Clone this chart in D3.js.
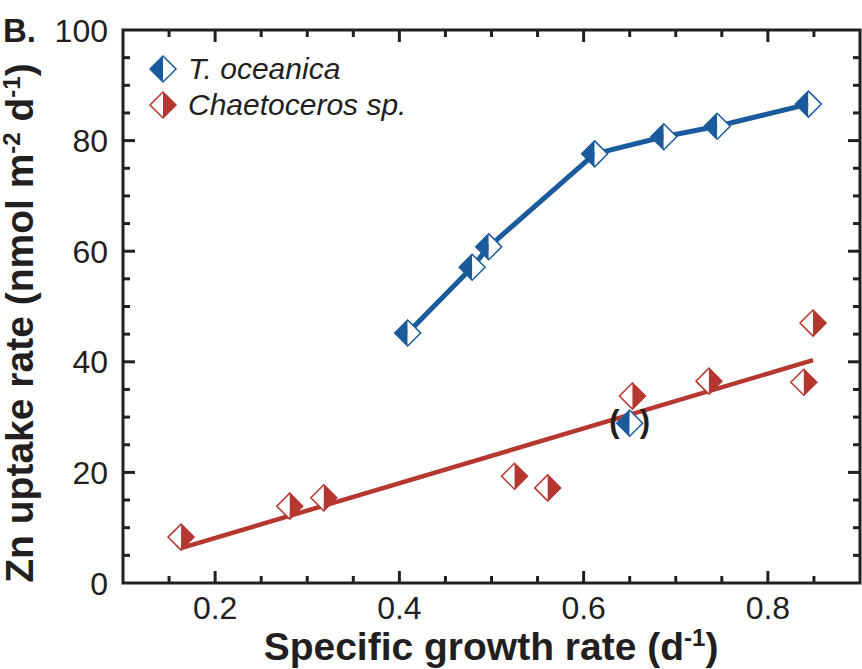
<!DOCTYPE html>
<html>
<head>
<meta charset="utf-8">
<script src="https://cdn.jsdelivr.net/npm/d3@7"></script>
<style>
  body { margin: 0; background: white; }
  text { font-family: Arial, "Liberation Sans", Helvetica, sans-serif; fill: #231f20; }
</style>
</head>
<body>
<svg id="chart"></svg>
<script>
// T. oceanica, connected points
var oceanicaX = [0.409, 0.479, 0.497, 0.612, 0.687, 0.745, 0.844];
var oceanicaY = [45.2, 57.1, 60.8, 77.6, 80.7, 82.6, 86.6];
// T. oceanica point excluded (in parentheses)
var outlierX = [0.65];
var outlierY = [28.9];
// Chaetoceros sp. points
var chaetoX = [0.163, 0.281, 0.318, 0.525, 0.561, 0.653, 0.736, 0.839, 0.849];
var chaetoY = [8.3, 13.9, 15.4, 19.3, 17.2, 33.8, 36.5, 36.3, 47.0];
// Chaetoceros sp. linear fit, end points
var fitX = [0.163, 0.849];
var fitY = [6.3, 40.3];

var xTicks = [0.2, 0.4, 0.6, 0.8];
var yTicks = [0, 20, 40, 60, 80, 100];
var legendNames = ["T. oceanica", "Chaetoceros sp."];

var W = 862, H = 669;
var plotL = 123, plotR = 860, plotT = 30, plotB = 583;
var ink = "#231f20";
var blue = "#1a5b9c";
var red = "#b5372f";
var s = 13; // half size of diamond

var svg = d3.select("#chart").attr("width", W).attr("height", H);

var x = d3.scaleLinear().domain([0.1, 0.9]).range([plotL, plotR]);
var y = d3.scaleLinear().domain([0, 100]).range([plotB, plotT]);

// ticks on all four sides, pointing inwards
var xMinor = d3.range(0.15, 0.9, 0.05).map(function (v) { return +v.toFixed(2); });
var yMinor = d3.range(0, 101, 5);

function isMajorX(v) { return xTicks.some(function (t) { return Math.abs(t - v) < 1e-6; }); }

var ticks = svg.append("g").attr("stroke", ink).attr("stroke-width", 3);
xMinor.forEach(function (v) {
  var len = isMajorX(v) ? 12 : 7;
  ticks.append("line").attr("x1", x(v)).attr("x2", x(v)).attr("y1", plotB).attr("y2", plotB - len);
  ticks.append("line").attr("x1", x(v)).attr("x2", x(v)).attr("y1", plotT).attr("y2", plotT + len);
});
yMinor.forEach(function (v) {
  if (v == 0 || v == 100) return;
  var len = v % 20 == 0 ? 12 : 7;
  ticks.append("line").attr("y1", y(v)).attr("y2", y(v)).attr("x1", plotL).attr("x2", plotL + len);
  ticks.append("line").attr("y1", y(v)).attr("y2", y(v)).attr("x1", plotR).attr("x2", plotR - len);
});

svg.append("rect")
  .attr("x", plotL).attr("y", plotT)
  .attr("width", plotR - plotL).attr("height", plotB - plotT)
  .attr("fill", "none").attr("stroke", ink).attr("stroke-width", 3);

// tick labels
svg.append("g").selectAll("text").data(xTicks).enter().append("text")
  .attr("x", function (d) { return x(d); })
  .attr("y", 619)
  .attr("text-anchor", "middle")
  .attr("font-size", 32)
  .text(function (d) { return d.toFixed(1); });

svg.append("g").selectAll("text").data(yTicks).enter().append("text")
  .attr("x", 108)
  .attr("y", function (d) { return y(d) + 11.5; })
  .attr("text-anchor", "end")
  .attr("font-size", 32)
  .text(function (d) { return d; });

// axis titles
var xt = svg.append("text")
  .attr("x", 491).attr("y", 660)
  .attr("text-anchor", "middle")
  .attr("font-size", 39).attr("font-weight", "bold");
xt.append("tspan").text("Specific growth rate (d");
xt.append("tspan").attr("font-size", 24).attr("dy", -14).text("-1");
xt.append("tspan").attr("dy", 14).text(")");

var yt = svg.append("text")
  .attr("transform", "translate(33,323) rotate(-90)")
  .attr("text-anchor", "middle")
  .attr("font-size", 39).attr("font-weight", "bold");
yt.append("tspan").text("Zn uptake rate (nmol m");
yt.append("tspan").attr("font-size", 24).attr("dy", -13).text("-2");
yt.append("tspan").attr("dy", 13).text(" d");
yt.append("tspan").attr("font-size", 24).attr("dy", -13).text("-1");
yt.append("tspan").attr("dy", 13).text(")");

svg.append("text")
  .attr("x", 3).attr("y", 42)
  .attr("font-size", 33).attr("font-weight", "bold")
  .text("B.");

// lines
var line = d3.line()
  .x(function (d) { return x(d[0]); })
  .y(function (d) { return y(d[1]); });

svg.append("path")
  .attr("d", line(d3.zip(oceanicaX, oceanicaY)))
  .attr("fill", "none").attr("stroke", blue).attr("stroke-width", 5)
  .attr("stroke-linejoin", "round");

svg.append("path")
  .attr("d", line(d3.zip(fitX, fitY)))
  .attr("fill", "none").attr("stroke", red).attr("stroke-width", 4.5);

// half filled diamond
function diamond(g, color, fillLeft) {
  g.append("path")
    .attr("d", "M0," + (-s) + "L" + (-s) + ",0L0," + s + "Z")
    .attr("fill", fillLeft ? color : "white");
  g.append("path")
    .attr("d", "M0," + (-s) + "L" + s + ",0L0," + s + "Z")
    .attr("fill", fillLeft ? "white" : color);
  g.append("path")
    .attr("d", "M0," + (-s) + "L" + s + ",0L0," + s + "L" + (-s) + ",0Z")
    .attr("fill", "none").attr("stroke", color).attr("stroke-width", 1.5);
}

function drawPoints(xs, ys, color, fillLeft) {
  d3.zip(xs, ys).forEach(function (d) {
    var g = svg.append("g").attr("transform", "translate(" + x(d[0]) + "," + y(d[1]) + ")");
    diamond(g, color, fillLeft);
  });
}

drawPoints(chaetoX, chaetoY, red, false);
drawPoints(oceanicaX, oceanicaY, blue, true);
drawPoints(outlierX, outlierY, blue, true);

// parentheses round the excluded point
d3.zip(outlierX, outlierY).forEach(function (d) {
  svg.append("text")
    .attr("x", x(d[0]) - 10).attr("y", y(d[1]) + 9)
    .attr("text-anchor", "end").attr("font-size", 31).attr("font-weight", "bold")
    .text("(");
  svg.append("text")
    .attr("x", x(d[0]) + 10).attr("y", y(d[1]) + 9)
    .attr("text-anchor", "start").attr("font-size", 31).attr("font-weight", "bold")
    .text(")");
});

// legend
var legendColors = [blue, red];
var legendFillLeft = [true, false];
legendNames.forEach(function (name, i) {
  var cy = 69 + i * 36;
  var g = svg.append("g").attr("transform", "translate(163," + cy + ")");
  diamond(g, legendColors[i], legendFillLeft[i]);
  svg.append("text")
    .attr("x", 188).attr("y", cy + 10)
    .attr("font-size", 30).attr("font-style", "italic")
    .text(name);
});
</script>
</body>
</html>
